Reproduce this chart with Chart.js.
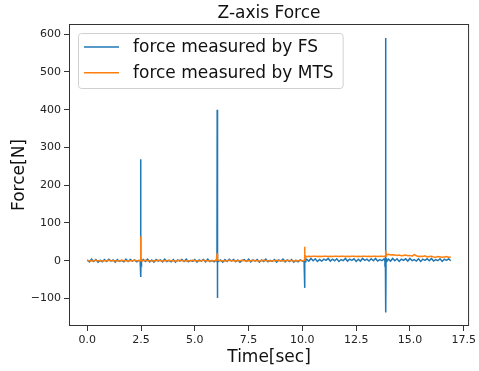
<!DOCTYPE html>
<html lang="en">
<head>
  <meta charset="UTF-8">
  <title>Z-axis Force</title>
  <style>
    body {
      margin: 0;
      padding: 0;
      background: white;
    }
    #wrap {
      width: 479px;
      height: 371px;
    }
  </style>
</head>
<body>
  <div id="wrap"><canvas id="forceChart" width="479" height="371"></canvas></div>

  <script src="https://cdn.jsdelivr.net/npm/chart.js"></script>
  <script>
    // time stamps (s), shared by both sensors
    const timeSec = [
      0.0, 0.1, 0.2, 0.3, 0.4, 0.5, 0.6, 0.7, 0.8, 0.9, 1.0, 1.1, 1.2, 1.3, 1.4, 1.5, 1.6, 1.7, 1.8, 1.9, 2.0, 2.1, 2.2, 2.3, 2.4,
      2.46, 2.48, 2.49, 2.50, 2.52,
      2.6, 2.7, 2.8, 2.9, 3.0, 3.1, 3.2, 3.3, 3.4, 3.5, 3.6, 3.7, 3.8, 3.9, 4.0, 4.1, 4.2, 4.3, 4.4, 4.5,
      4.6, 4.7, 4.8, 4.9, 5.0, 5.1, 5.2, 5.3, 5.4, 5.5, 5.6, 5.7, 5.8, 5.9, 6.0,
      6.03, 6.04, 6.05, 6.06, 6.08,
      6.1, 6.2, 6.3, 6.4, 6.5, 6.6, 6.7, 6.8, 6.9, 7.0, 7.1, 7.2, 7.3, 7.4, 7.5, 7.6, 7.7, 7.8, 7.9, 8.0,
      8.1, 8.2, 8.3, 8.4, 8.5, 8.6, 8.7, 8.8, 8.9, 9.0, 9.1, 9.2, 9.3, 9.4, 9.5, 9.6, 9.7, 9.8, 9.9, 10.0,
      10.08, 10.10, 10.11, 10.12, 10.14, 10.16,
      10.2, 10.3, 10.4, 10.5, 10.6, 10.7, 10.8, 10.9, 11.0, 11.1, 11.2, 11.3, 11.4, 11.5, 11.6, 11.7, 11.8, 11.9,
      12.0, 12.1, 12.2, 12.3, 12.4, 12.5, 12.6, 12.7, 12.8, 12.9, 13.0, 13.1, 13.2, 13.3, 13.4, 13.5, 13.6, 13.7, 13.8,
      13.84, 13.86, 13.87, 13.88, 13.89, 13.91,
      14.0, 14.1, 14.2, 14.3, 14.4, 14.5, 14.6, 14.7, 14.8, 14.9, 15.0, 15.1, 15.2, 15.3, 15.4,
      15.5, 15.6, 15.7, 15.8, 15.9, 16.0, 16.1, 16.2, 16.3, 16.4, 16.5, 16.6, 16.7, 16.8, 16.9
    ];

    // force sensor (N)
    const forceFS = [
      2, -3, 4, -2, 3, -4, 1, -3, 3, -2, 4, -1, 2, -4, 3, -2, 1, -3, 4, -2, 3, -1, 2, -3, 1,
      0, 269, -43, 3, -2,
      3, -2, 4, -3, 2, -4, 3, -1, 2, -3, 4, -2, 1, -3, 3, -4, 2, -1, 3, -2,
      4, -3, 1, -2, 3, -4, 2, -1, 3, -3, 4, -2, 1, -3, 2,
      -2, 400, -99, 4, -3,
      -3, 2, -4, 3, -2, 4, -1, 3, -3, 2, -4, 1, 3, -2, 4, -3, 2, -1, 3, -4,
      2, -2, 4, -3, 1, -2, 3, -4, 2, -1, 4, -3, 2, -2, 3, -4, 1, -3, 2, -1,
      -1, 8, -72, 5, -3, 4,
      4, -1, 6, 0, 5, -2, 3, -1, 4, 1, 6, -1, 4, 0, 5, -2, 3, 0,
      6, -1, 4, 1, 5, -2, 4, -1, 6, 1, 4, -1, 5, 0, 6, -1, 3, 0, 5,
      -2, 3, 590, -137, 6, -3,
      4, -1, 6, 0, 5, -2, 4, 1, 5, -1, 6, 0, 3, -1, 5,
      -2, 4, 1, 5, 0, 6, -1, 3, 0, 5, -2, 4, 1, 5, 0
    ];

    // MTS load cell (N)
    const forceMTS = [
      0, 0, -1, 0, 1, 0, 0, -1, 0, 0, 1, 0, 0, 0, -1, 0, 1, 0, 0, -1, 0, 0, 1, 0, 0,
      0, 64, 8, 2, 1,
      0, 1, 0, 0, -1, 0, 0, 1, 0, -1, 0, 0, 1, 0, 0, -1, 0, 1, 0, 0,
      -1, 0, 0, 1, 0, 0, -1, 0, 1, 0, 0, -1, 0, 0, 1,
      1, 20, 6, 3, 1,
      1, 0, 0, -1, 0, 1, 0, 0, -1, 0, 0, 1, 0, -1, 0, 0, 1, 0, 0, -1,
      0, 1, 0, 0, -1, 0, 0, 1, 0, 0, -1, 0, 1, 0, 0, -1, 0, 0, 1, 0,
      1, 37, 22, 15, 12, 11,
      11, 12, 11, 12, 12, 11, 12, 11, 12, 12, 11, 12, 11, 12, 12, 11, 12, 12,
      11, 12, 11, 12, 12, 11, 12, 11, 12, 12, 11, 12, 11, 12, 12, 11, 12, 12, 11,
      12, 13, 15, 27, 18, 16,
      17, 15, 16, 15, 14, 15, 13, 14, 15, 13, 14, 12, 16, 13, 11,
      12, 11, 13, 10, 11, 12, 10, 9, 11, 10, 9, 10, 11, 9, 10
    ];

    const xTicks = [0, 2.5, 5, 7.5, 10, 12.5, 15, 17.5];
    const yTicks = [-100, 0, 100, 200, 300, 400, 500, 600];

    const FONT = 'DejaVu Sans';

    // matplotlib style box, title over the plot and legend in the upper left
    const framePlugin = {
      id: 'frame',
      afterDatasetsDraw(chart) {
        const { ctx, chartArea: a } = chart;
        ctx.save();
        ctx.strokeStyle = '#333';
        ctx.lineWidth = 1;
        ctx.strokeRect(a.left + 0.5, a.top + 0.5, a.right - a.left - 1, a.bottom - a.top - 1);

        // title
        ctx.fillStyle = '#111';
        ctx.font = '17px ' + FONT;
        ctx.textAlign = 'center';
        ctx.textBaseline = 'alphabetic';
        ctx.fillText('Z-axis Force', (a.left + a.right) / 2, 18);

        // legend
        const sets = chart.data.datasets;
        const bx = a.left + 9, by = a.top + 9;
        const rowH = 25.7;
        let maxW = 0;
        sets.forEach(d => { maxW = Math.max(maxW, ctx.measureText(d.label).width); });
        const bw = 55 + maxW + 9, bh = 55;
        ctx.beginPath();
        ctx.roundRect(bx + 0.5, by + 0.5, bw, bh, 3);
        ctx.fillStyle = 'rgba(255,255,255,0.8)';
        ctx.fill();
        ctx.strokeStyle = '#d0d0d0';
        ctx.stroke();
        ctx.textAlign = 'left';
        ctx.textBaseline = 'middle';
        sets.forEach((d, i) => {
          const cy = by + 14 + i * rowH;
          ctx.beginPath();
          ctx.moveTo(bx + 6, cy);
          ctx.lineTo(bx + 41, cy);
          ctx.strokeStyle = d.borderColor;
          ctx.lineWidth = 1.5;
          ctx.stroke();
          ctx.fillStyle = '#111';
          ctx.fillText(d.label, bx + 55, cy + 1);
        });
        ctx.restore();
      }
    };

    const tickGrid = {
      display: true,
      drawOnChartArea: false,
      drawTicks: true,
      tickLength: 5,
      color: '#333'
    };

    new Chart(document.getElementById('forceChart'), {
      type: 'line',
      data: {
        datasets: [
          {
            label: 'force measured by FS',
            data: timeSec.map((t, i) => ({ x: t, y: forceFS[i] })),
            borderColor: '#1f77b4',
            borderWidth: 1.5,
            pointRadius: 0,
            tension: 0,
            order: 2
          },
          {
            label: 'force measured by MTS',
            data: timeSec.map((t, i) => ({ x: t, y: forceMTS[i] })),
            borderColor: '#ff7f0e',
            borderWidth: 1.5,
            pointRadius: 0,
            tension: 0,
            order: 1
          }
        ]
      },
      options: {
        responsive: false,
        animation: false,
        layout: { padding: { left: 0, right: 5, top: 24, bottom: 0 } },
        plugins: {
          legend: { display: false },
          title: { display: false },
          tooltip: { enabled: false }
        },
        scales: {
          x: {
            type: 'linear',
            min: -0.85,
            max: 17.75,
            grid: tickGrid,
            border: { display: false },
            afterBuildTicks: s => { s.ticks = xTicks.map(v => ({ value: v })); },
            afterFit: s => { s.height = 45; },
            ticks: {
              autoSkip: false,
              maxRotation: 0,
              padding: 3,
              color: '#222',
              font: { family: FONT, size: 11 },
              callback: v => v.toFixed(1)
            },
            title: {
              display: true,
              text: 'Time[sec]',
              color: '#111',
              font: { family: FONT, size: 17 },
              padding: { top: 0, bottom: 3 }
            }
          },
          y: {
            min: -173,
            max: 627,
            grid: tickGrid,
            border: { display: false },
            afterBuildTicks: s => { s.ticks = yTicks.map(v => ({ value: v })); },
            afterFit: s => { s.width = 69; },
            ticks: {
              autoSkip: false,
              padding: 3,
              color: '#222',
              font: { family: FONT, size: 11 },
              callback: v => (v < 0 ? '\u2212' + Math.abs(v) : String(v))
            },
            title: {
              display: true,
              text: 'Force[N]',
              color: '#111',
              font: { family: FONT, size: 17 },
              padding: { top: 9, bottom: 0 }
            }
          }
        }
      },
      plugins: [framePlugin]
    });
  </script>
</body>
</html>
